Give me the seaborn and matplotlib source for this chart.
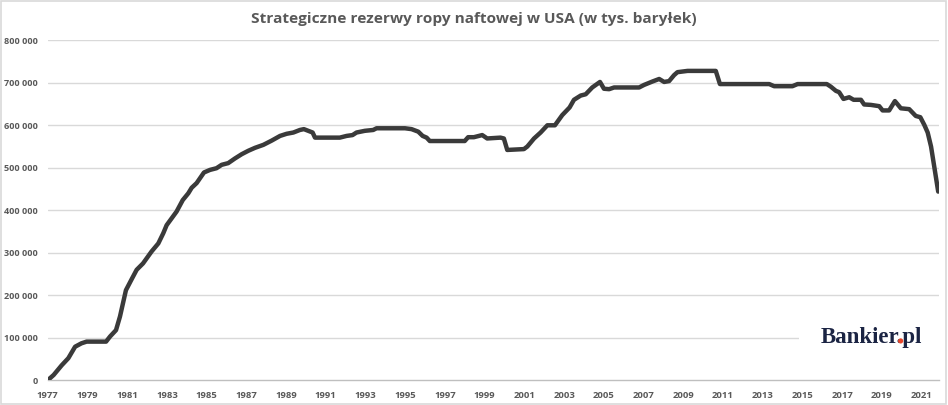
import matplotlib
matplotlib.use("Agg")
import matplotlib.pyplot as plt
import seaborn as sns
import pandas as pd
from matplotlib.patches import Rectangle, Circle
from matplotlib.transforms import IdentityTransform

title = "Strategiczne rezerwy ropy naftowej w USA (w tys. baryłek)"

years = [1977.0, 1977.3, 1977.7, 1978.04, 1978.38, 1978.7, 1978.96, 1979.94, 1980.14, 1980.44,
         1980.64, 1980.94, 1981.23, 1981.48, 1981.8, 1982.23, 1982.57, 1982.82, 1982.99, 1983.24,
         1983.49, 1983.8, 1984.08, 1984.25, 1984.5, 1984.87, 1985.17, 1985.5, 1985.76, 1986.09,
         1986.43, 1986.77, 1987.1, 1987.44, 1987.86, 1988.28, 1988.7, 1989.03, 1989.37, 1989.7,
         1989.9, 1990.12, 1990.34, 1990.46, 1991.71, 1992.05, 1992.35, 1992.55, 1992.97, 1993.39,
         1993.56, 1994.99, 1995.32, 1995.66, 1995.88, 1996.08, 1996.24, 1998.0, 1998.17, 1998.46,
         1998.88, 1999.13, 1999.8, 1999.97, 2000.14, 2000.98, 2001.15, 2001.49, 2001.82, 2002.16,
         2002.54, 2002.91, 2003.28, 2003.5, 2003.84, 2004.09, 2004.42, 2004.81, 2005.01, 2005.27,
         2005.52, 2006.53, 2006.78, 2007.03, 2007.45, 2007.79, 2008.04, 2008.29, 2008.54, 2008.71,
         2009.22, 2010.64, 2010.85, 2013.33, 2013.58, 2014.5, 2014.76, 2016.23, 2016.43, 2016.69,
         2016.85, 2017.07, 2017.36, 2017.58, 2017.95, 2018.11, 2018.45, 2018.87, 2019.04, 2019.37,
         2019.66, 2019.96, 2020.38, 2020.71, 2020.94, 2021.14, 2021.31, 2021.48, 2021.64, 2021.84]

reserves = [0, 12500, 35000, 52000, 79000, 87000, 91000, 91000, 103000, 118000,
            150000, 212000, 238000, 260000, 275000, 303000, 322000, 346000, 365000, 381000,
            397000, 424000, 440000, 453000, 464000, 489000, 495000, 499000, 507000, 511000,
            522000, 532000, 540000, 547000, 554000, 564000, 575000, 580000, 583000, 589000,
            591000, 587000, 583000, 571000, 571000, 575000, 577000, 583000, 587000, 589000,
            593000, 593000, 591000, 585000, 575000, 571000, 563000, 563000, 572000, 572000,
            577000, 569000, 571000, 569000, 542000, 544000, 550000, 569000, 583000, 600000,
            600000, 624000, 642000, 660000, 670000, 673000, 689000, 702000, 686000, 685000,
            689000, 689000, 689000, 695000, 703000, 709000, 702000, 704000, 718000, 725000,
            728000, 728000, 697000, 697000, 692000, 692000, 697000, 697000, 691000, 681000,
            678000, 662000, 666000, 660000, 660000, 649000, 648000, 645000, 635000, 635000,
            657000, 640000, 638000, 622000, 619000, 601000, 583000, 550000, 503000, 444000]

tick_years = list(range(1977, 2022, 2))
y_ticks = [0, 100000, 200000, 300000, 400000, 500000, 600000, 700000, 800000]
y_labels = ["0", "100 000", "200 000", "300 000", "400 000", "500 000", "600 000", "700 000", "800 000"]

df = pd.DataFrame({"rok": years, "rezerwy": reserves})

sns.set_theme(style="white")
plt.rcParams["font.family"] = ["Open Sans", "DejaVu Sans"]

fig = plt.figure(figsize=(9.48, 4.05), dpi=100)
ax = fig.add_axes([0.0503, 0.061, 0.9402, 0.8395])

gray_text = "#595959"
grid_c = "#d9d9d9"

for v in y_ticks[1:]:
    ax.axhline(v, color=grid_c, lw=1.0, zorder=0)

sns.lineplot(data=df, x="rok", y="rezerwy", ax=ax, color="#3a3a3a", lw=3.2,
             solid_joinstyle="round", solid_capstyle="round", zorder=3)

ax.set_xlim(1977, 2021.88)
ax.set_ylim(0, 800000)
ax.set_xticks(tick_years)
ax.set_xticklabels([str(y) for y in tick_years], fontsize=6.8, fontweight="bold", color=gray_text)
ax.set_yticks(y_ticks)
ax.set_yticklabels(y_labels, fontsize=6.6, fontweight="bold", color=gray_text)
ax.set_xlabel("")
ax.set_ylabel("")
for s in ["top", "right", "left"]:
    ax.spines[s].set_visible(False)
ax.spines["bottom"].set_color("#bfbfbf")
ax.spines["bottom"].set_linewidth(1.0)
ax.tick_params(axis="x", direction="out", length=4, width=1, color="#bfbfbf", pad=4)
ax.tick_params(axis="y", length=0, pad=7)
ax.grid(False)

fig.text(0.5, 0.953, title, ha="center", va="center", fontsize=11.1, fontweight="bold", color=gray_text)

# logo background (interrupts the 100 000 gridline)
ax.add_patch(Rectangle((0.843, 0.09), 0.157, 0.08, transform=ax.transAxes,
                       facecolor="white", edgecolor="none", zorder=2))
logo_font = ["Liberation Serif", "DejaVu Serif"]
logo_pos = (0.8676, 0.109)
logo_kw = dict(transform=ax.transAxes, family=logo_font, fontsize=16.5, fontweight="bold",
               color="#1b2443", ha="left", va="baseline", zorder=5)
ax.text(*logo_pos, "Bankier.pl", **logo_kw)

# red dot of the logo: find the dot position and cover it with a red circle
fig.canvas.draw()
renderer = fig.canvas.get_renderer()
tmp = ax.text(*logo_pos, "Bankier.", **logo_kw)
bb = tmp.get_window_extent(renderer)
tmp.remove()
base_y = ax.transAxes.transform(logo_pos)[1]
fig.patches.append(Circle((bb.x1 - 2.6, base_y + 2.3), 2.6, transform=IdentityTransform(),
                          facecolor="#e8462b", edgecolor="none", zorder=6))

fig.patches.append(Rectangle((0.001, 0.002), 0.997, 0.995, transform=fig.transFigure,
                             fill=False, edgecolor="#d9d9d9", lw=1.2))

fig.savefig("out.png", dpi=100)
